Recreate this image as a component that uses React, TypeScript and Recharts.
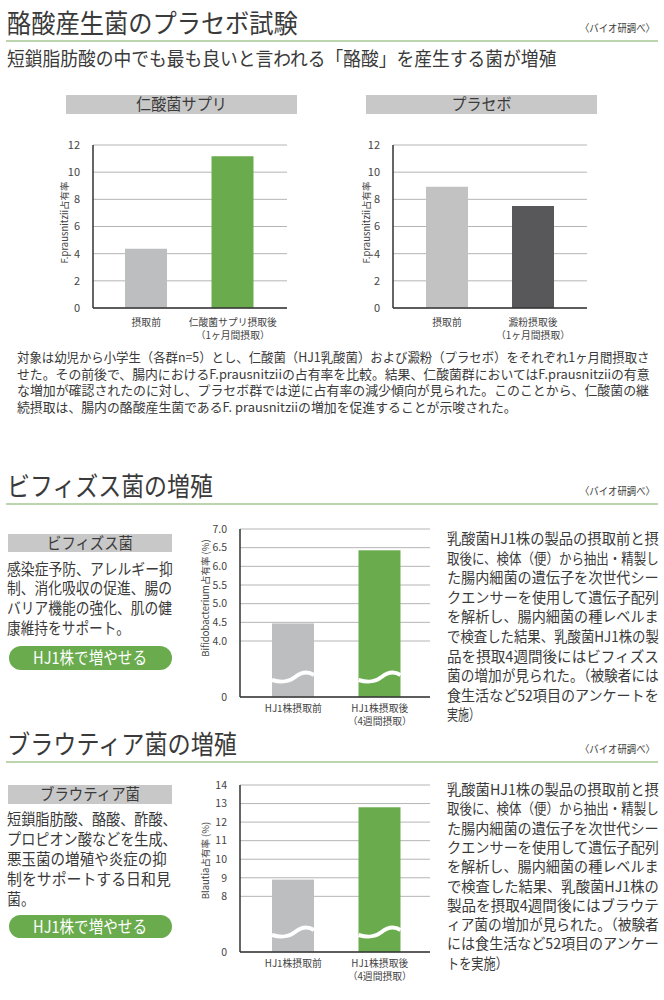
import React, { useLayoutEffect, useRef, useState } from 'react';
import { BarChart, Bar, XAxis, YAxis, CartesianGrid, Cell } from 'recharts';

const FONT = "'Noto Sans CJK JP', 'Noto Sans', sans-serif";
const TEXT = '#3a3a3a';
const GREEN = '#6aab4e';
const GRAY = '#bdbec0';

// --- data ---
const capsCategories = ['摂取前', '仁酸菌サプリ摂取後\n（1ヶ月間摂取）'];
const capsValues = [4.37, 11.18];
const capsColors = [GRAY, GREEN];

const placeboCategories = ['摂取前', '澱粉摂取後\n（1ヶ月間摂取）'];
const placeboValues = [8.92, 7.51];
const placeboColors = ['#c2c2c2', '#58585a'];

const fTicks = [0, 2, 4, 6, 8, 10, 12];

const hjCategories = ['HJ1株摂取前', 'HJ1株摂取後\n（4週間摂取）'];
const hjColors = [GRAY, GREEN];

const bifidoValues = [4.47, 6.43];
// lowest tick is the broken-axis floor, labelled "0"
const bifidoTicks = [2.5, 4, 4.5, 5, 5.5, 6, 6.5, 7];

const blautiaValues = [8.9, 12.8];
const blautiaTicks = [5, 8, 9, 10, 11, 12, 13, 14];

const para1 = [
  '対象は幼児から小学生（各群n=5）とし、仁酸菌（HJ1乳酸菌）および澱粉（プラセボ）をそれぞれ1ヶ月間摂取さ',
  'せた。その前後で、腸内におけるF.prausnitziiの占有率を比較。結果、仁酸菌群においてはF.prausnitziiの有意',
  'な増加が確認されたのに対し、プラセボ群では逆に占有率の減少傾向が見られた。このことから、仁酸菌の継',
  '続摂取は、腸内の酪酸産生菌であるF. prausnitziiの増加を促進することが示唆された。',
];

const bifidoSide = ['感染症予防、アレルギー抑', '制、消化吸収の促進、腸の', 'バリア機能の強化、肌の健', '康維持をサポート。'];
const bifidoSideW = [166, 165, 165, 123];

const blautiaSide = ['短鎖脂肪酸、酪酸、酢酸、', 'プロピオン酸などを生成、', '悪玉菌の増殖や炎症の抑', '制をサポートする日和見', '菌。'];
const blautiaSideW = [170, 170, 160, 164, 28];

const bifidoNote = [
  '乳酸菌HJ1株の製品の摂取前と摂',
  '取後に、検体（便）から抽出・精製し',
  'た腸内細菌の遺伝子を次世代シー',
  'クエンサーを使用して遺伝子配列',
  'を解析し、腸内細菌の種レベルま',
  'で検査した結果、乳酸菌HJ1株の製',
  '品を摂取4週間後にはビフィズス',
  '菌の増加が見られた。（被験者には',
  '食生活など52項目のアンケートを',
  '実施）',
];
const bifidoNoteLastW = 33;

const blautiaNote = [
  '乳酸菌HJ1株の製品の摂取前と摂',
  '取後に、検体（便）から抽出・精製し',
  'た腸内細菌の遺伝子を次世代シー',
  'クエンサーを使用して遺伝子配列',
  'を解析し、腸内細菌の種レベルま',
  'で検査した結果、乳酸菌HJ1株の',
  '製品を摂取4週間後にはブラウテ',
  'ィア菌の増加が見られた。（被験者',
  'には食生活など52項目のアンケー',
  'トを実施）',
];
const blautiaNoteLastW = 61;

// --- helpers ---
// text squeezed horizontally to a given width (the original uses a condensed gothic)
const Txt = ({ x, y, w, size, children, anchor = 'start', fill = TEXT }: any) => {
  const ref = useRef<SVGTextElement>(null);
  const [sx, setSx] = useState(1);
  useLayoutEffect(() => {
    if (!w || !ref.current) return;
    const natural = ref.current.getComputedTextLength();
    if (natural > 0) setSx(w / natural);
  }, [w, children, size]);
  return (
    <text
      ref={ref}
      x={0}
      y={0}
      transform={`translate(${x} ${y}) scale(${sx} 1)`}
      fontSize={size}
      fill={fill}
      textAnchor={anchor}
      fontFamily={FONT}
    >
      {children}
    </text>
  );
};

const Header = ({ title, w, y }: any) => (
  <g>
    <Txt x={7} y={y} w={w} size={26}>{title}</Txt>
    <Txt x={580} y={y - 1} w={75} size={10.5}>〈バイオ研調べ〉</Txt>
    <line x1={6} x2={658} y1={y + 8} y2={y + 8} stroke="#bcd5ae" strokeWidth={2} />
  </g>
);

const GrayBox = ({ x, y, w, h, label, tw, size = 16 }: any) => (
  <g>
    <rect x={x} y={y} width={w} height={h} fill="#c8c8c8" />
    <Txt x={x + w / 2} y={y + h / 2 + size * 0.36} w={tw} size={size} anchor="middle">{label}</Txt>
  </g>
);

const Pill = ({ y, h }: any) => (
  <g>
    <rect x={9} y={y} width={163} height={h} rx={h / 2} fill={GREEN} />
    <Txt x={90} y={y + h / 2 + 6} w={114} size={17} anchor="middle" fill="#fff">HJ1株で増やせる</Txt>
  </g>
);

const TwoLineTick = ({ x, y, payload, first, gap }: any) => {
  const lines = String(payload.value).split('\n');
  return (
    <text x={x} y={y + first} textAnchor="middle" fontSize={9.8} fill="#444" fontFamily={FONT}>
      {lines.map((l, i) => (
        <tspan key={i} x={x} dy={i === 0 ? 0 : gap}>{l}</tspan>
      ))}
    </text>
  );
};

const YLabel = ({ viewBox, value, dx, dy, size }: any) => {
  const cx = viewBox.x + dx;
  const cy = viewBox.y + viewBox.height / 2 + dy;
  return (
    <text
      x={cx}
      y={cy}
      transform={`rotate(-90 ${cx} ${cy})`}
      textAnchor="middle"
      dominantBaseline="central"
      fontSize={size}
      fill="#444"
      fontFamily={FONT}
    >
      {value}
    </text>
  );
};

const BreakBar = (props: any) => {
  const { x, y, width: w, height, fill } = props;
  const yb = y + height - 20;
  const d = `M${x},${yb + 3} C${x + 0.25 * w},${yb + 6} ${x + 0.4 * w},${yb + 5} ${x + 0.55 * w},${yb} C${x + 0.7 * w},${yb - 5} ${x + 0.85 * w},${yb - 6} ${x + w},${yb - 2}`;
  return (
    <g>
      <rect x={x} y={y} width={w} height={height} fill={fill} />
      <path d={d} stroke="#fff" strokeWidth={4} fill="none" />
    </g>
  );
};

const SmallChart = ({
  left, top, width, height, yWidth, marginTop, marginRight, xHeight, padding,
  categories, values, colors, ticks, fmt, label, labelDx, labelDy, labelSize,
  tickSize, first, gap, broken,
}: any) => {
  const data = categories.map((name: string, i: number) => ({ name, value: values[i] }));
  return (
    <div style={{ position: 'absolute', left, top }}>
      <BarChart
        width={width}
        height={height}
        data={data}
        margin={{ top: marginTop, right: marginRight, left: 0, bottom: 0 }}
      >
        <CartesianGrid vertical={false} stroke="#b5b5b5" />
        <XAxis
          dataKey="name"
          height={xHeight}
          padding={padding}
          tickLine={false}
          tickSize={0}
          tickMargin={0}
          axisLine={{ stroke: '#333', strokeWidth: 1.5 }}
          tick={<TwoLineTick first={first} gap={gap} />}
          interval={0}
        />
        <YAxis
          width={yWidth}
          domain={[ticks[0], ticks[ticks.length - 1]]}
          ticks={ticks}
          interval={0}
          tickLine={false}
          tickMargin={7}
          tickFormatter={fmt}
          axisLine={{ stroke: '#333', strokeWidth: 1.5 }}
          tick={{ fontSize: tickSize, fill: '#444', fontFamily: FONT }}
          label={(p: any) => <YLabel {...p} value={label} dx={labelDx} dy={labelDy} size={labelSize} />}
        />
        <Bar dataKey="value" barSize={42} isAnimationActive={false} shape={broken ? BreakBar : undefined}>
          {data.map((_: any, i: number) => (
            <Cell key={i} fill={colors[i]} />
          ))}
        </Bar>
      </BarChart>
    </div>
  );
};

export default function App() {
  return (
    <div style={{ position: 'absolute', left: 0, top: 0, width: 664, height: 1000, background: '#fff', overflow: 'hidden' }}>
      <svg width={664} height={1000} style={{ position: 'absolute', left: 0, top: 0 }}>
        {/* section 1 */}
        <Header title="酪酸産生菌のプラセボ試験" w={291} y={33} />
        <Txt x={7} y={66} w={550} size={19}>短鎖脂肪酸の中でも最も良いと言われる「酪酸」を産生する菌が増殖</Txt>
        <GrayBox x={66} y={95} w={231} h={19} label="仁酸菌サプリ" tw={91} />
        <GrayBox x={366} y={95} w={231} h={19} label="プラセボ" tw={60} />
        {para1.map((l, i) => (
          <Txt key={i} x={17} y={362 + i * 16.5} w={i === 3 ? 500 : 633} size={13}>{l}</Txt>
        ))}

        {/* section 2 */}
        <Header title="ビフィズス菌の増殖" w={206} y={496} />
        <GrayBox x={8} y={534} w={164} h={18} label="ビフィズス菌" tw={86} />
        {bifidoSide.map((l, i) => (
          <Txt key={i} x={7} y={574.5 + i * 19.8} w={bifidoSideW[i]} size={15.5}>{l}</Txt>
        ))}
        <Pill y={646} h={24} />
        {bifidoNote.map((l, i) => (
          <Txt key={i} x={447} y={544 + i * 19.6} w={i === bifidoNote.length - 1 ? bifidoNoteLastW : 212} size={14.5}>{l}</Txt>
        ))}

        {/* section 3 */}
        <Header title="ブラウティア菌の増殖" w={230} y={754} />
        <GrayBox x={8} y={785} w={164} h={19} label="ブラウティア菌" tw={100} />
        {blautiaSide.map((l, i) => (
          <Txt key={i} x={7} y={825 + i * 20} w={blautiaSideW[i]} size={15.5}>{l}</Txt>
        ))}
        <Pill y={915} h={23} />
        {blautiaNote.map((l, i) => (
          <Txt key={i} x={447} y={795 + i * 19.3} w={i === blautiaNote.length - 1 ? blautiaNoteLastW : 212} size={14.5}>{l}</Txt>
        ))}
      </svg>

      <SmallChart
        left={50} top={130} width={250} height={214} yWidth={43} marginTop={15} marginRight={13} xHeight={36}
        padding={{ left: 10, right: 11 }}
        categories={capsCategories} values={capsValues} colors={capsColors} ticks={fTicks}
        fmt={(v: number) => String(v)} label="F.prausnitzii占有率" labelDx={14} labelDy={-4} labelSize={9.5}
        tickSize={11} first={18} gap={13}
      />
      <SmallChart
        left={340} top={130} width={260} height={214} yWidth={53} marginTop={15} marginRight={13} xHeight={36}
        padding={{ left: 11, right: 11 }}
        categories={placeboCategories} values={placeboValues} colors={placeboColors} ticks={fTicks}
        fmt={(v: number) => String(v)} label="F.prausnitzii占有率" labelDx={26} labelDy={-4} labelSize={9.5}
        tickSize={11} first={18} gap={13}
      />
      <SmallChart
        left={195} top={515} width={245} height={213} yWidth={45} marginTop={14} marginRight={10} xHeight={31}
        padding={{ left: 10, right: 7 }}
        categories={hjCategories} values={bifidoValues} colors={hjColors} ticks={bifidoTicks}
        fmt={(v: number) => (v === bifidoTicks[0] ? '0' : v.toFixed(1))}
        label="Bifidobacterium占有率 (%)" labelDx={10} labelDy={-15} labelSize={9.5}
        tickSize={10.5} first={15} gap={13} broken
      />
      <SmallChart
        left={195} top={770} width={245} height={213} yWidth={45} marginTop={15} marginRight={10} xHeight={31}
        padding={{ left: 10, right: 7 }}
        categories={hjCategories} values={blautiaValues} colors={hjColors} ticks={blautiaTicks}
        fmt={(v: number) => (v === blautiaTicks[0] ? '0' : String(v))}
        label="Blautia占有率 (%)" labelDx={10} labelDy={-8} labelSize={9.5}
        tickSize={10.5} first={15} gap={13} broken
      />
    </div>
  );
}
